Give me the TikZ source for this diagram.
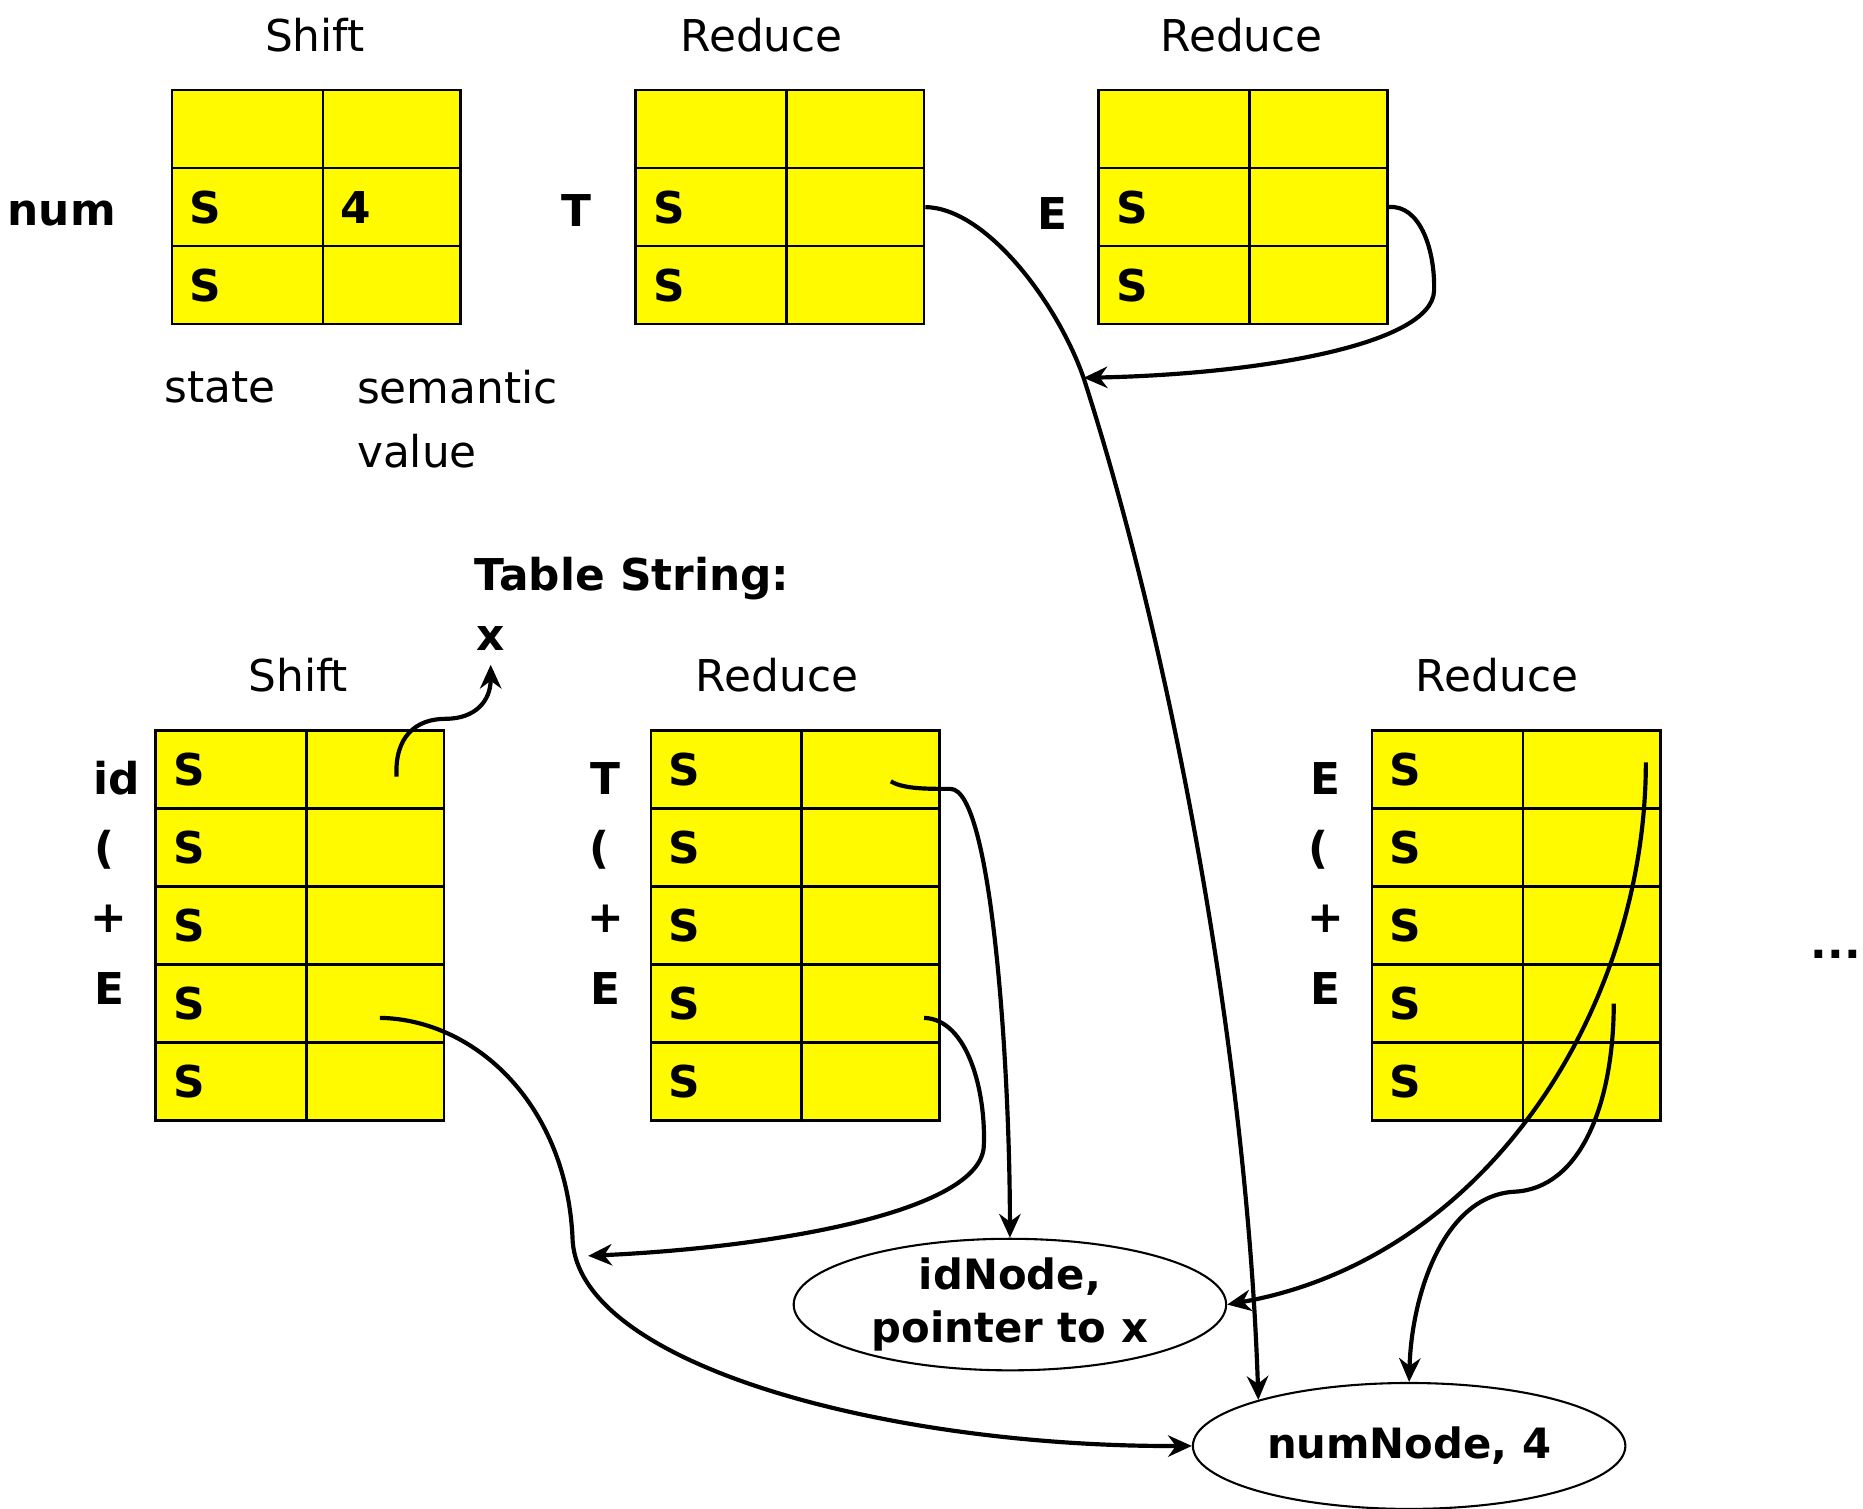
\documentclass[tikz,border=0pt]{standalone}
\usepackage{fontspec}
\setmainfont{DejaVu Sans}
\usepackage{tikz}
\usetikzlibrary{shapes,arrows.meta,matrix}

\definecolor{stackyellow}{RGB}{255,250,0}
\newcommand{\diagfont}{\fontsize{10.5}{12.6}\selectfont}

\begin{document}
\begin{tikzpicture}[
    x=0.1mm, y=-0.1mm,
    stack/.style={matrix of nodes, nodes in empty cells, inner sep=0pt, anchor=north west,
        column sep=-0.6pt, row sep=-0.6pt,
        nodes={rectangle, draw=black, line width=0.6pt, fill=stackyellow, anchor=center,
            inner xsep=1.5mm, inner ysep=0pt, minimum height=6.57mm, align=left, font=\diagfont\bfseries},
        column 1/.style={nodes={text width=9.7mm}},
        column 2/.style={nodes={text width=8.6mm}}},
    title/.style={font=\diagfont},
    sym/.style={font=\diagfont\bfseries},
    astnode/.style={ellipse, draw=black, line width=0.5pt, minimum width=36.4mm, minimum height=10.6mm, inner sep=0pt, align=center, font=\fontsize{10}{12.6}\selectfont\bfseries},
    link/.style={-{Stealth[length=2mm,width=1.8mm]},line width=1pt}
]
\useasboundingbox (0,0) rectangle (1568,1270);

% Upper stacks
\matrix[stack] (t1) at (143,74) {
      & \\
    S & 4 \\
    S & \\
};
\matrix[stack] (t2) at (533,74) {
      & \\
    S & \\
    S & \\
};
\matrix[stack] (t3) at (923,74) {
      & \\
    S & \\
    S & \\
};

\node[title] (t1title) at (265,30) {Shift};
\node[title] (t2title) at (641,30) {Reduce};
\node[title] (t3title) at (1045,30) {Reduce};

\node[sym] (t1num) at (52,180) {num};
\node[sym] (t2T) at (485,177) {T};
\node[sym] (t3E) at (886,180) {E};

\node[title] (state) at (185,326) {state};
\node[title, align=left] (semval) at (385,353) {semantic\\[1mm]value};

% Lower stacks
\matrix[stack] (b1) at (129,613) {
    S & \\
    S & \\
    S & \\
    S & \\
    S & \\
};
\matrix[stack] (b2) at (546,613) {
    S & \\
    S & \\
    S & \\
    S & \\
    S & \\
};
\matrix[stack] (b3) at (1153,613) {
    S & \\
    S & \\
    S & \\
    S & \\
    S & \\
};

\node[title] (b1title) at (251,568) {Shift};
\node[title] (b2title) at (654,568) {Reduce};
\node[title] (b3title) at (1260,568) {Reduce};

\node[sym] (b1id) at (98,655) {id};
\node[sym] (b1lp) at (88,715) {(};
\node[sym] (b1plus) at (92,773) {+};
\node[sym] (b1E) at (92,832) {E};

\node[sym] (b2T) at (510,655) {T};
\node[sym] (b2lp) at (505,715) {(};
\node[sym] (b2plus) at (510,773) {+};
\node[sym] (b2E) at (510,832) {E};

\node[sym] (b3E) at (1116,655) {E};
\node[sym] (b3lp) at (1110,715) {(};
\node[sym] (b3plus) at (1116,773) {+};
\node[sym] (b3E2) at (1116,832) {E};

\node[sym] (more) at (1545,803) {...};

% String table and tree nodes
\node[sym] (tblstr) at (532,487) {Table String:};
\node[sym] (xsym) at (413,537) {x};

\node[astnode] (idnode) at (850,1098) {idNode,\\pointer to x};
\node[astnode] (numnode) at (1186,1217) {numNode, 4};

% Pointers
\coordinate (jointop) at (912,318);
\coordinate (joinbot) at (495,1057);

\draw[link] (t2-2-2.east) .. controls (830,175) and (890,255) .. (jointop)
    .. controls (990,560) and (1050,900) .. (numnode.163);
\draw[link] (t3-2-2.east) .. controls (1195,172) and (1208,210) .. (1207,245)
    .. controls (1205,290) and (1060,315) .. (jointop);

\draw[link] ([xshift=1.8mm,yshift=-0.6mm]b1-1-2.center) .. controls (332,620) and (350,605) .. (375,605)
    .. controls (400,605) and (413,590) .. (xsym.south);
\draw[link] ([xshift=0.4mm,yshift=-1.2mm]b1-4-2.center) .. controls (400,858) and (478,930) .. (482,1045)
    .. controls (490,1150) and (750,1218) .. (numnode.west);

\draw[link] ([xshift=1.7mm,yshift=-1mm]b2-1-2.center) .. controls (760,664) and (780,664) .. (800,664)
    .. controls (835,664) and (850,900) .. (idnode.north);
\draw[link] ([xshift=4.5mm,yshift=-1.2mm]b2-4-2.center) .. controls (815,858) and (830,920) .. (828,965)
    .. controls (825,1020) and (650,1050) .. (joinbot);

\draw[link] ([xshift=4.55mm,yshift=0.6mm]b3-1-2.center) .. controls (1385,850) and (1250,1060) .. (idnode.east);
\draw[link] ([xshift=1.85mm]b3-4-2.center) .. controls (1358,930) and (1330,1000) .. (1275,1003)
    .. controls (1215,1006) and (1188,1090) .. (numnode.north);

\end{tikzpicture}
\end{document}
